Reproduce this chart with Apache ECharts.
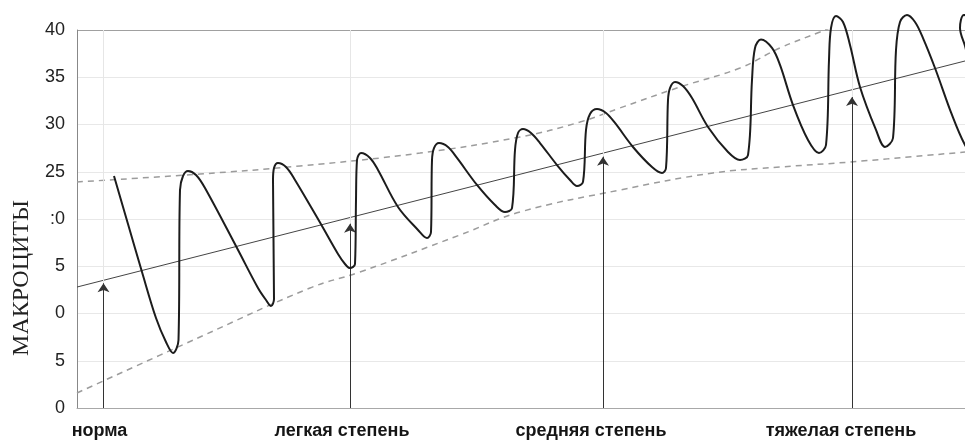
<!DOCTYPE html>
<html><head><meta charset="utf-8">
<script src="https://cdn.jsdelivr.net/npm/echarts@6/dist/echarts.min.js"></script>
<style>html,body{margin:0;padding:0;background:#fff}#c{width:965px;height:441px}</style>
</head><body><div id="c"></div>
<script>
const categories = ['норма', 'легкая степень', 'средняя степень', 'тяжелая степень'];
const stageX = [2.65, 27.3, 52.6, 77.5];
const arrowTip = [13.2, 19.5, 26.6, 32.9];
const yTickLabels = ['0', '5', '0', '5', ':0', '25', '30', '35', '40'];

const waveX = [3.7, 5.1, 6.5, 7.9, 8.9, 9.6, 10.15, 10.3, 10.6, 11.1, 11.9, 12.8, 16.0, 18.1, 18.9, 19.4, 19.7, 19.6, 19.7, 20.1,
  20.9, 21.8, 24.5, 26.1, 26.8, 27.3, 27.8, 27.9, 28.0, 28.4, 29.3, 30.1, 32.1, 34.1, 35.0, 35.4, 35.5, 35.7, 36.2, 37.1,
  38.0, 40.0, 41.8, 42.8, 43.5, 43.8, 44.1, 44.6, 45.4, 46.3, 48.0, 49.3, 50.0, 50.6, 50.9, 51.3, 52.0, 52.9, 53.8, 55.6,
  57.5, 58.5, 58.9, 59.1, 59.3, 59.8, 60.6, 61.5, 63.1, 65.1, 66.3, 67.1, 67.5, 67.8, 68.4, 69.5, 70.3, 71.6, 73.1, 74.2,
  74.9, 75.2, 75.4, 75.9, 76.6, 77.3, 78.3, 79.9, 80.8, 81.6, 81.9, 82.3, 83.0, 83.8, 84.6, 85.8, 87.5, 88.8, 89.8, 90.1,
  88.9, 88.3, 88.7, 89.8];
const waveY = [24.55, 19.47, 14.39, 9.52, 6.98, 5.82, 7.2, 23.07, 24.55, 25.08, 24.66, 23.28, 16.93, 12.70, 11.43, 10.79, 11.53, 24.13, 25.40, 25.93,
  25.50, 24.13, 19.26, 16.30, 15.24, 14.81, 15.24, 22.01, 26.24, 26.98, 26.46, 25.19, 21.27, 18.84, 17.99, 18.62, 26.24, 27.51, 28.04, 27.62,
  26.46, 23.60, 21.48, 20.74, 21.16, 27.30, 29.10, 29.52, 29.10, 28.04, 25.71, 24.13, 23.49, 23.92, 29.42, 31.11, 31.64, 31.22, 30.16, 27.62,
  25.50, 24.87, 25.40, 32.59, 33.86, 34.50, 34.07, 32.80, 29.74, 27.09, 26.24, 26.77, 34.71, 38.10, 39.0, 38.10, 36.30, 32.06, 28.36, 26.98,
  27.83, 36.83, 40.21, 41.48, 40.85, 38.41, 33.97, 29.42, 27.62, 28.57, 37.88, 40.85, 41.59, 40.85, 39.15, 35.98, 31.01, 27.83, 26.46, 27.30,
  37.88, 40.21, 41.59, 41.06];

const trendX = [0, 88.8];
const trendY = [12.8, 36.72];

const upperX = [0, 12.3, 22.3, 34.3, 44.3, 50.3, 54.3, 60.3, 66.3, 70.3, 74.3, 80.3];
const upperY = [23.92, 24.76, 25.61, 26.98, 28.68, 30.26, 31.75, 33.97, 35.98, 38.1, 39.79, 42.33];

const lowerX = [0, 12.3, 23.3, 28.3, 38.3, 44.3, 54.3, 63.6, 70.3, 77.3, 88.8];
const lowerY = [1.59, 7.51, 12.70, 14.39, 18.31, 20.74, 23.07, 24.87, 25.50, 26.03, 27.09];

const zip = (xs, ys) => xs.map((x, i) => [x, ys[i]]);

const gridLines = stageX.map(x => [
  { coord: [x, 0], symbol: 'none', lineStyle: { color: '#e6e6e6', width: 1, type: 'solid' } },
  { coord: [x, 40], symbol: 'none', lineStyle: { color: '#e6e6e6', width: 1, type: 'solid' } }
]);
const arrows = stageX.map((x, i) => [
  { coord: [x, 0], symbol: 'none', lineStyle: { color: '#333', width: 1, type: 'solid' } },
  { coord: [x, arrowTip[i]], symbol: 'arrow', symbolSize: 9, lineStyle: { color: '#333', width: 1, type: 'solid' } }
]);

const splitColors = ['#e8e8e8', '#e8e8e8', '#e8e8e8', '#e8e8e8', '#e8e8e8', '#e8e8e8', '#e8e8e8', '#e8e8e8', '#a0a0a0'];
const labelFont = { fontFamily: 'Liberation Sans', fontSize: 18, fontWeight: 'bold', color: '#151515' };
const labelRich = {
  c0: Object.assign({ padding: [0, 8, 0, 0] }, labelFont),
  c1: Object.assign({ padding: [0, 16, 0, 0] }, labelFont),
  c2: Object.assign({ padding: [0, 24, 0, 0] }, labelFont),
  c3: Object.assign({ padding: [0, 22, 0, 0] }, labelFont)
};

const chart = echarts.init(document.getElementById('c'), null, { renderer: 'canvas' });
chart.setOption({
  animation: false,
  backgroundColor: '#fff',
  grid: { left: 77, right: 0, top: 30, bottom: 33, containLabel: false },
  xAxis: {
    type: 'value', min: 0, max: 88.8,
    axisLine: { show: true, lineStyle: { color: '#a8a8a8', width: 1 } },
    axisTick: { show: false },
    splitLine: { show: false },
    axisLabel: Object.assign({
      customValues: stageX,
      formatter: v => { const i = stageX.findIndex(s => Math.abs(s - v) < 1e-6); return i >= 0 ? '{c' + i + '|' + categories[i] + '}' : ''; },
      margin: 14, rich: labelRich
    }, labelFont)
  },
  yAxis: {
    type: 'value', min: 0, max: 40, interval: 5,
    axisLine: { show: true, lineStyle: { color: '#888', width: 1 } },
    axisTick: { show: false },
    splitLine: { show: true, lineStyle: { color: splitColors, width: 1 } },
    axisLabel: {
      formatter: v => yTickLabels[Math.round(v / 5)],
      fontFamily: 'Liberation Sans', fontSize: 18, color: '#222', margin: 12
    }
  },
  graphic: [{
    type: 'text', x: 22, y: 278, rotation: Math.PI / 2,
    style: { text: 'МАКРОЦИТЫ', fill: '#222', font: '24px "Liberation Serif"', textAlign: 'center', textVerticalAlign: 'middle' }
  }],
  series: [
    {
      type: 'line', name: 'upper', data: zip(upperX, upperY), smooth: 0.4, showSymbol: false, clip: true, z: 2,
      lineStyle: { color: '#9c9c9c', width: 1.5, type: [6, 5] }
    },
    {
      type: 'line', name: 'lower', data: zip(lowerX, lowerY), smooth: 0.4, showSymbol: false, clip: true, z: 2,
      lineStyle: { color: '#9c9c9c', width: 1.5, type: [6, 5] }
    },
    {
      type: 'line', name: 'trend', data: zip(trendX, trendY), showSymbol: false, clip: true, z: 3,
      lineStyle: { color: '#444', width: 1 },
      markLine: {
        silent: true, animation: false, symbol: ['none', 'none'], label: { show: false },
        emphasis: { disabled: true },
        data: gridLines.concat(arrows)
      }
    },
    {
      type: 'line', name: 'wave', data: zip(waveX, waveY), smooth: 0.35, showSymbol: false, clip: false, z: 5,
      lineStyle: { color: '#1c1c1c', width: 2 }
    }
  ]
});
</script>
</body></html>
